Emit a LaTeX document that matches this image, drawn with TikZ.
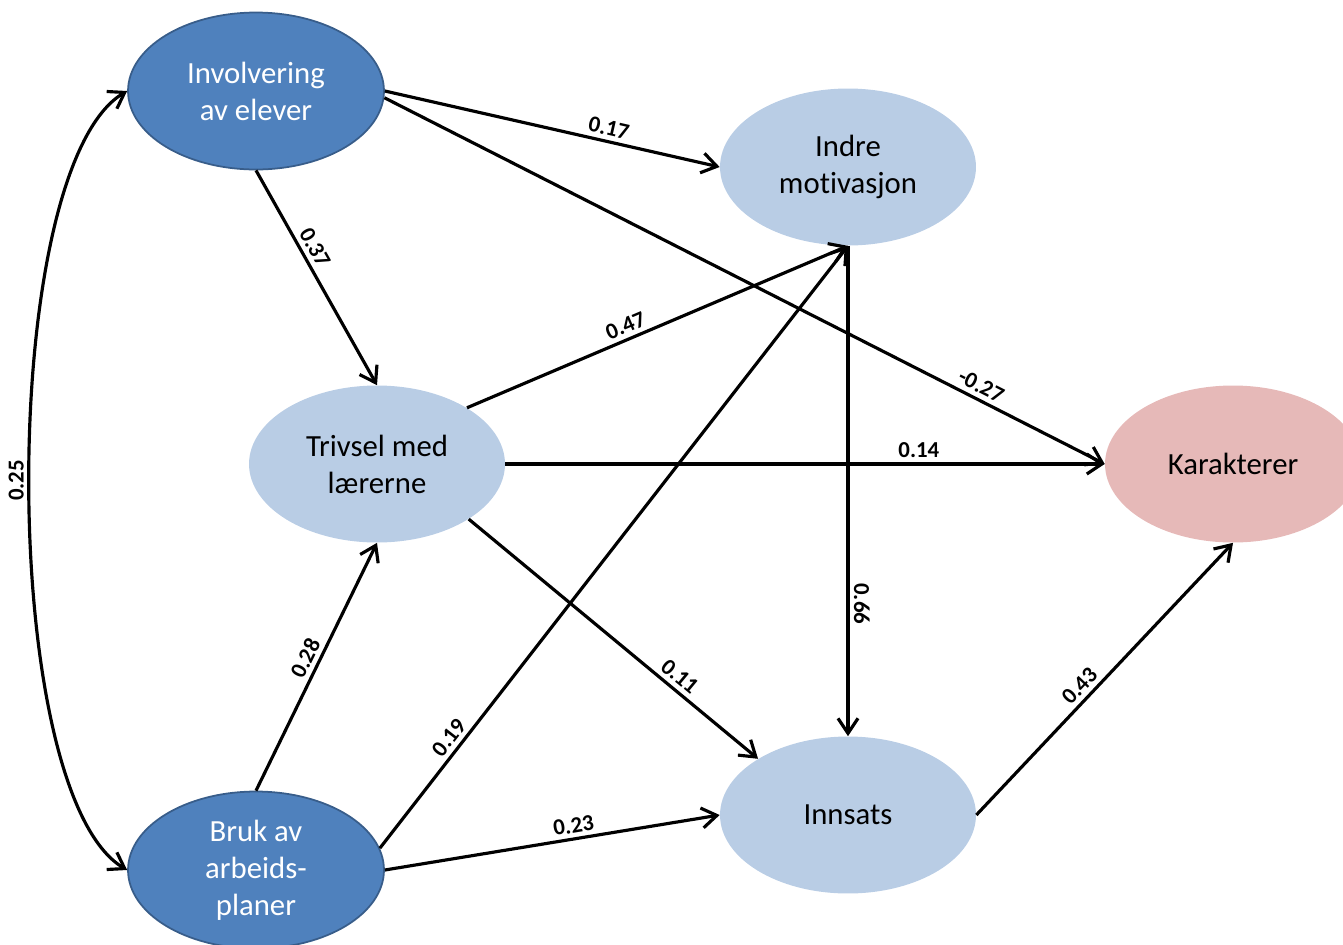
\documentclass[tikz,border=0pt]{standalone}
\usepackage{fontspec}
\setmainfont{Carlito}[Ligatures=NoCommon]
\usetikzlibrary{shapes.geometric}
\usetikzlibrary{arrows.meta}

\definecolor{darkblue}{HTML}{4F81BD}
\definecolor{darkblueline}{HTML}{385D8A}
\definecolor{lightblue}{HTML}{B9CDE5}
\definecolor{lightred}{HTML}{E6B9B8}

\begin{document}
\begin{tikzpicture}[x=0.02cm,y=-0.02cm,>={Straight Barb[length=3mm,width=4mm]},
var/.style={ellipse,minimum width=5.12cm,minimum height=3.14cm,inner sep=0pt,align=center,font=\fontsize{17.5}{21}\selectfont},
exo/.style={var,fill=darkblue,draw=darkblueline,line width=1pt,text=white},
endo/.style={var,fill=lightblue},
outc/.style={var,fill=lightred},
path/.style={line width=1.8pt,->},
coef/.style={font=\fontsize{13}{15}\selectfont\bfseries,sloped,above,inner sep=2.5pt}]

\useasboundingbox (0,0) rectangle (1343,944);

\node[exo] (inv) at (256,91) {Involvering\\av elever};
\node[exo] (bruk) at (256,870) {Bruk av\\arbeids-\\planer};
\node[endo] (triv) at (377,464) {Trivsel med\\lærerne};
\node[endo] (indre) at (848,167) {Indre\\motivasjon};
\node[endo] (inn) at (848,815) {Innsats};
\node[outc] (kar) at (1233,464) {Karakterer};

\draw[path] (inv.east) -- node[coef,pos=0.66] {0.17} (indre.west);
\draw[path] (inv.-3) -- node[coef,pos=0.82] {-0.27} (kar.west);
\draw[path] (inv.south) -- node[coef,pos=0.39] {0.37} (triv.north);
\draw[path] (triv.32) -- node[coef,pos=0.43] {0.47} (indre.south);
\draw[path] (triv.east) -- node[coef,pos=0.69] {0.14} (kar.west);
\draw[path] (triv.-31) -- node[coef,pos=0.7] {0.11} (inn.148);
\draw[path] (indre.south) -- node[coef,pos=0.73] {0.66} (inn.north);
\draw[path] (bruk.north) -- node[coef,pos=0.51] {0.28} (triv.south);
\draw[path] (bruk.10) -- node[coef,pos=0.17] {0.19} (indre.south);
\draw[path] (bruk.east) -- node[coef,pos=0.57] {0.23} (inn.west);
\draw[path] (inn.east) -- node[coef,pos=0.44] {0.43} (kar.south);

% korrelasjon
\draw[path,<->] (bruk.west) .. controls +(-130,-77) and +(-130,77) .. node[coef] {0.25} (inv.west);
\end{tikzpicture}
\end{document}
